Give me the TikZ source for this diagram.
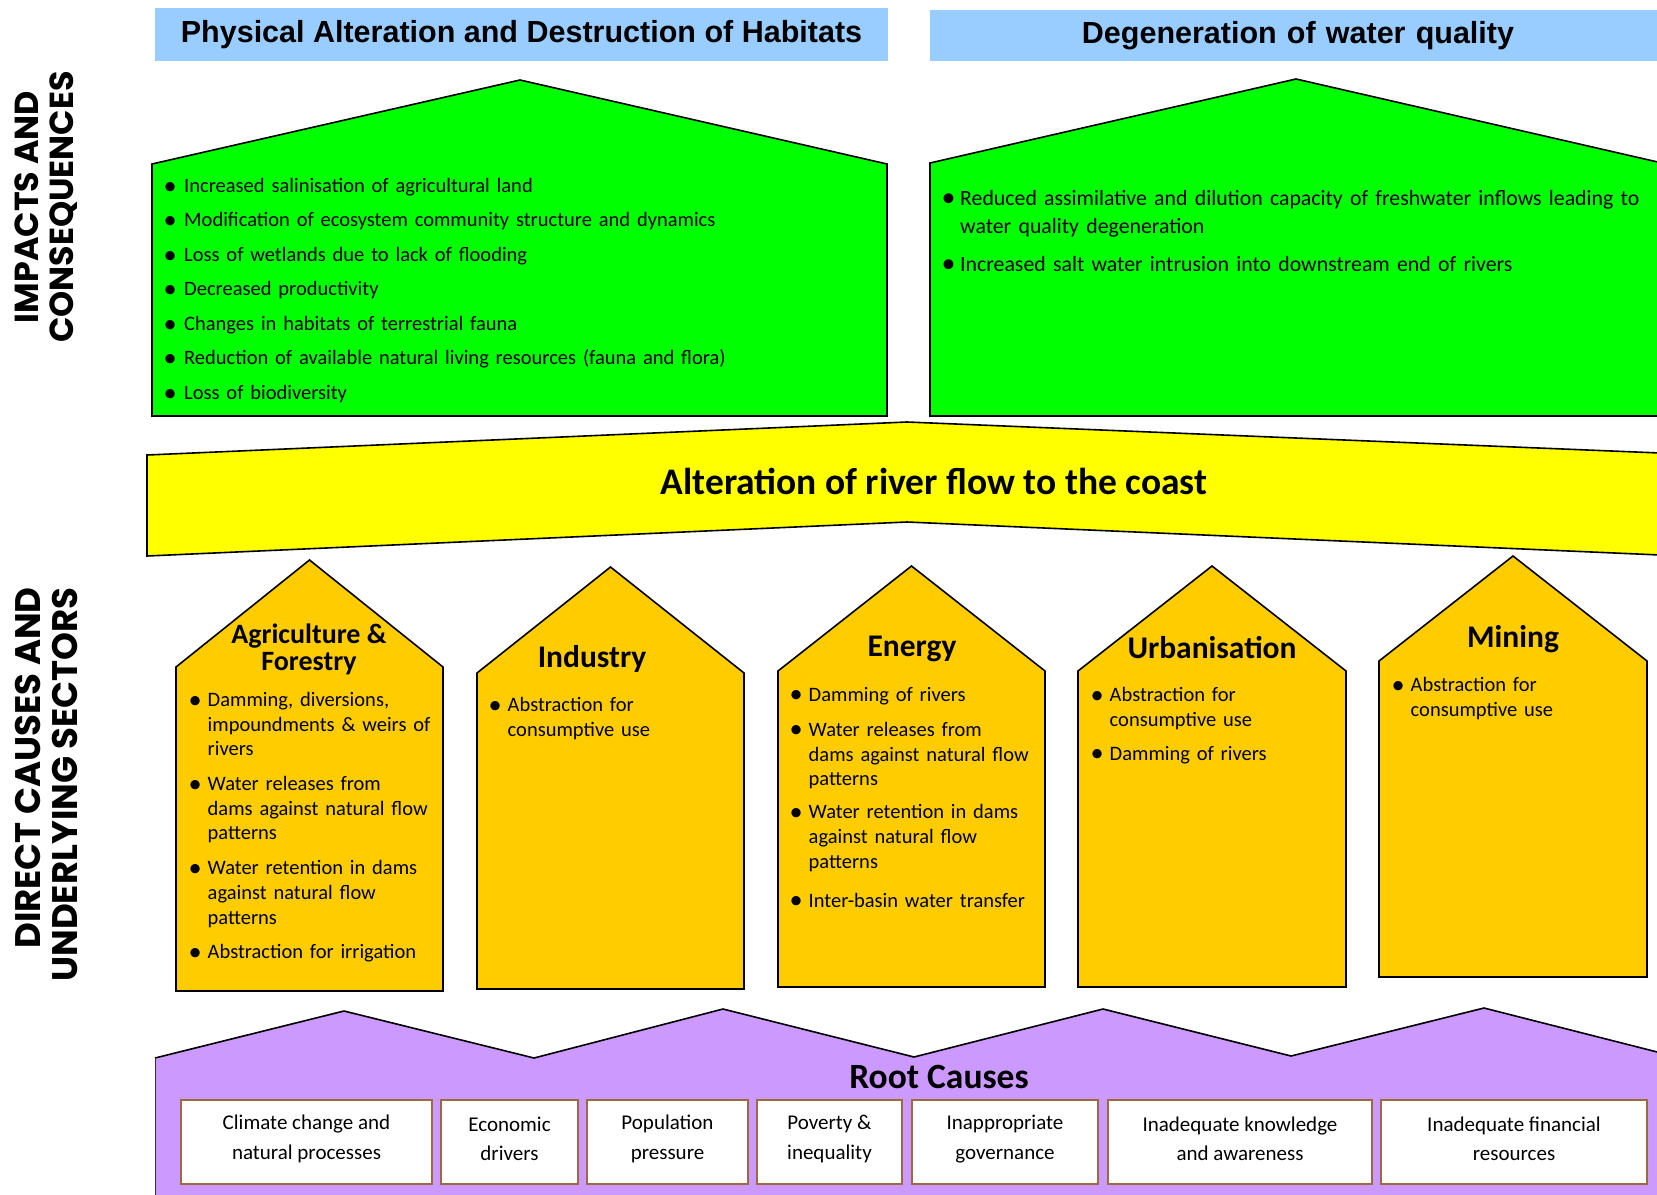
\documentclass[tikz,border=0pt]{standalone}
\usepackage{fontspec}
\usepackage{graphicx}
\setmainfont{Carlito}
\newfontfamily\hdfont{Liberation Sans}
\newfontfamily\vtfont{Poppins}
\definecolor{hdblue}{HTML}{99CCFF}
\definecolor{impgreen}{HTML}{00FF00}
\definecolor{flowyellow}{HTML}{FFFF00}
\definecolor{secorange}{HTML}{FFCC00}
\definecolor{rootpurple}{HTML}{CC99FF}
\definecolor{rootbrown}{HTML}{9C6A3C}
\newcommand\bli[2]{\noindent\hangindent=#1\hangafter=1\makebox[#1][l]{\hspace*{-4.5pt}\raisebox{-1.6pt}{\scalebox{1.28}{\textbullet}}}#2\par}
\tikzset{
  outline/.style={draw=black, line width=1.6pt, line join=miter},
  hdbox/.style={fill=hdblue, draw=none, inner sep=0pt, font=\hdfont\bfseries\fontsize{30.5}{34}\selectfont},
  vlabel/.style={rotate=90, inner sep=0pt, font=\vtfont\bfseries\fontsize{33.3}{35}\selectfont},
  greentext/.style={anchor=north west, inner sep=0pt, text width=740pt, align=left},
  orangetext/.style={anchor=north west, inner sep=0pt, text width=250pt, align=left, font=\fontsize{20.5}{24.7}\selectfont},
  sectitle/.style={inner sep=0pt, align=center, font=\bfseries\fontsize{31.5}{31.5}\selectfont},
  rootbox/.style={draw=rootbrown, line width=2.5pt, fill=white, inner sep=0pt, minimum height=84pt},
  roottext/.style={inner sep=0pt, align=center, font=\fontsize{21}{29.5}\selectfont}
}
\begin{document}
\begin{tikzpicture}[x=1pt,y=-1pt]
\useasboundingbox (0,0) rectangle (1657,1194);

% headers
\node[hdbox, minimum width=733pt, minimum height=53pt] (h1) at (521.5,34.5) {Physical Alteration and Destruction of Habitats};
\node[hdbox, minimum width=730pt, minimum height=51pt, text width=730pt, align=center] (h2) at (1295,35.5) {\hspace*{6pt}Degeneration of water quality};

% side labels
\node[vlabel, align=center] (lab1) at (46,207) {IMPACTS AND\\CONSEQUENCES};
\node[vlabel, align=right, anchor=east, font=\vtfont\bfseries\fontsize{35.5}{37}\selectfont] (lab2) at (46,587) {DIRECT CAUSES AND\\UNDERLYING SECTORS};

% green houses
\path[outline, fill=impgreen] (152,416) -- (152,164) -- (520,80) -- (887,164) -- (887,416) -- cycle;
\path[outline, fill=impgreen] (930,416) -- (930,163) -- (1296,79) -- (1662,163) -- (1662,416) -- cycle;

\node[greentext, font=\fontsize{20.5}{24}\selectfont] (g1) at (168,178) {%
\bli{16pt}{Increased salinisation of agricultural land}\vspace{10.5pt}
\bli{16pt}{Modification of ecosystem community structure and dynamics}\vspace{10.5pt}
\bli{16pt}{Loss of wetlands due to lack of flooding}\vspace{10.5pt}
\bli{16pt}{Decreased productivity}\vspace{10.5pt}
\bli{16pt}{Changes in habitats of terrestrial fauna}\vspace{10.5pt}
\bli{16pt}{Reduction of available natural living resources (fauna and flora)}\vspace{10.5pt}
\bli{16pt}{Loss of biodiversity}};

\node[greentext, font=\fontsize{21.8}{28}\selectfont] (g2) at (946,190) {%
\bli{14pt}{Reduced assimilative and dilution capacity of freshwater inflows leading to\newline water quality degeneration}\vspace{10pt}
\bli{14pt}{Increased salt water intrusion into downstream end of rivers}};

% yellow band
\path[outline, fill=flowyellow] (147,455) -- (907,422) -- (1660,453) -- (1660,555) -- (907,522) -- (147,556) -- cycle;
\node[inner sep=0pt, font=\bfseries\fontsize{37.5}{40}\selectfont] (flow) at (934,481) {Alteration of river flow to the coast};

% orange houses
\path[outline, fill=secorange] (176,991) -- (176,667) -- (309.5,560) -- (443,667) -- (443,991) -- cycle;
\path[outline, fill=secorange] (477,989) -- (477,673) -- (610.5,567) -- (744,673) -- (744,989) -- cycle;
\path[outline, fill=secorange] (778,987) -- (778,671) -- (911.5,566) -- (1045,671) -- (1045,987) -- cycle;
\path[outline, fill=secorange] (1078,987) -- (1078,671) -- (1212,566) -- (1346,671) -- (1346,987) -- cycle;
\path[outline, fill=secorange] (1379,977) -- (1379,661) -- (1513,556) -- (1647,661) -- (1647,977) -- cycle;

\node[sectitle, font=\bfseries\fontsize{28}{27.5}\selectfont] (t1) at (309,649.5) {Agriculture \&\\Forestry};
\node[sectitle] (t2) at (592,659) {Industry};
\node[sectitle] (t3) at (912,649) {Energy};
\node[sectitle] (t4) at (1212,648) {Urbanisation};
\node[sectitle] (t5) at (1513,639) {Mining};

\node[orangetext] (o1) at (193,692) {%
\bli{14.5pt}{Damming, diversions,\newline impoundments \& weirs of\newline rivers}\vspace{10pt}
\bli{14.5pt}{Water releases from\newline dams against natural flow\newline patterns}\vspace{10pt}
\bli{14.5pt}{Water retention in dams\newline against natural flow\newline patterns}\vspace{10pt}
\bli{14.5pt}{Abstraction for irrigation}};

\node[orangetext] (o2) at (493,697) {%
\bli{14.5pt}{Abstraction for\newline consumptive use}};

\node[orangetext] (o3) at (794,687) {%
\bli{14.5pt}{Damming of rivers}\vspace{10.3pt}
\bli{14.5pt}{Water releases from\newline dams against natural flow\newline patterns}\vspace{8.3pt}
\bli{14.5pt}{Water retention in dams\newline against natural flow\newline patterns}\vspace{14.3pt}
\bli{14.5pt}{Inter-basin water transfer}};

\node[orangetext] (o4) at (1095,687) {%
\bli{14.5pt}{Abstraction for\newline consumptive use}\vspace{9.3pt}
\bli{14.5pt}{Damming of rivers}};

\node[orangetext] (o5) at (1396,677) {%
\bli{14.5pt}{Abstraction for\newline consumptive use}};

% root causes
\fill[rootpurple] (155,1058) -- (344,1011) -- (534,1058) -- (723,1009) -- (914,1057) -- (1103,1009) -- (1291,1056) -- (1484,1008) -- (1673,1056) -- (1673,1200) -- (155,1200) -- cycle;
\draw[line width=1.6pt, line join=miter] (155,1058) -- (344,1011) -- (534,1058) -- (723,1009) -- (914,1057) -- (1103,1009) -- (1291,1056) -- (1484,1008) -- (1673,1056);
\draw[line width=1pt, draw=black!80] (155,1058) -- (155,1200);

\node[inner sep=0pt, font=\bfseries\fontsize{35.5}{38}\selectfont] (rc) at (939,1077) {Root Causes};

\node[rootbox, minimum width=251pt] (r1) at (306.5,1142) {};
\node[rootbox, minimum width=137pt] (r2) at (509.5,1142) {};
\node[rootbox, minimum width=161pt] (r3) at (667.5,1142) {};
\node[rootbox, minimum width=145pt] (r4) at (829.5,1142) {};
\node[rootbox, minimum width=186pt] (r5) at (1005,1142) {};
\node[rootbox, minimum width=264pt] (r6) at (1240,1142) {};
\node[rootbox, minimum width=266pt] (r7) at (1514,1142) {};

\node[roottext] (rt1) at ([yshift=3pt]r1.center) {Climate change and\\natural processes};
\node[roottext] (rt2) at ([yshift=3pt]r2.center) {Economic\\drivers};
\node[roottext] (rt3) at ([yshift=3pt]r3.center) {Population\\pressure};
\node[roottext] (rt4) at ([yshift=3pt]r4.center) {Poverty \&\\inequality};
\node[roottext] (rt5) at ([yshift=3pt]r5.center) {Inappropriate\\governance};
\node[roottext] (rt6) at ([yshift=3pt]r6.center) {Inadequate knowledge\\and awareness};
\node[roottext] (rt7) at ([yshift=3pt]r7.center) {Inadequate financial\\resources};
\end{tikzpicture}
\end{document}
